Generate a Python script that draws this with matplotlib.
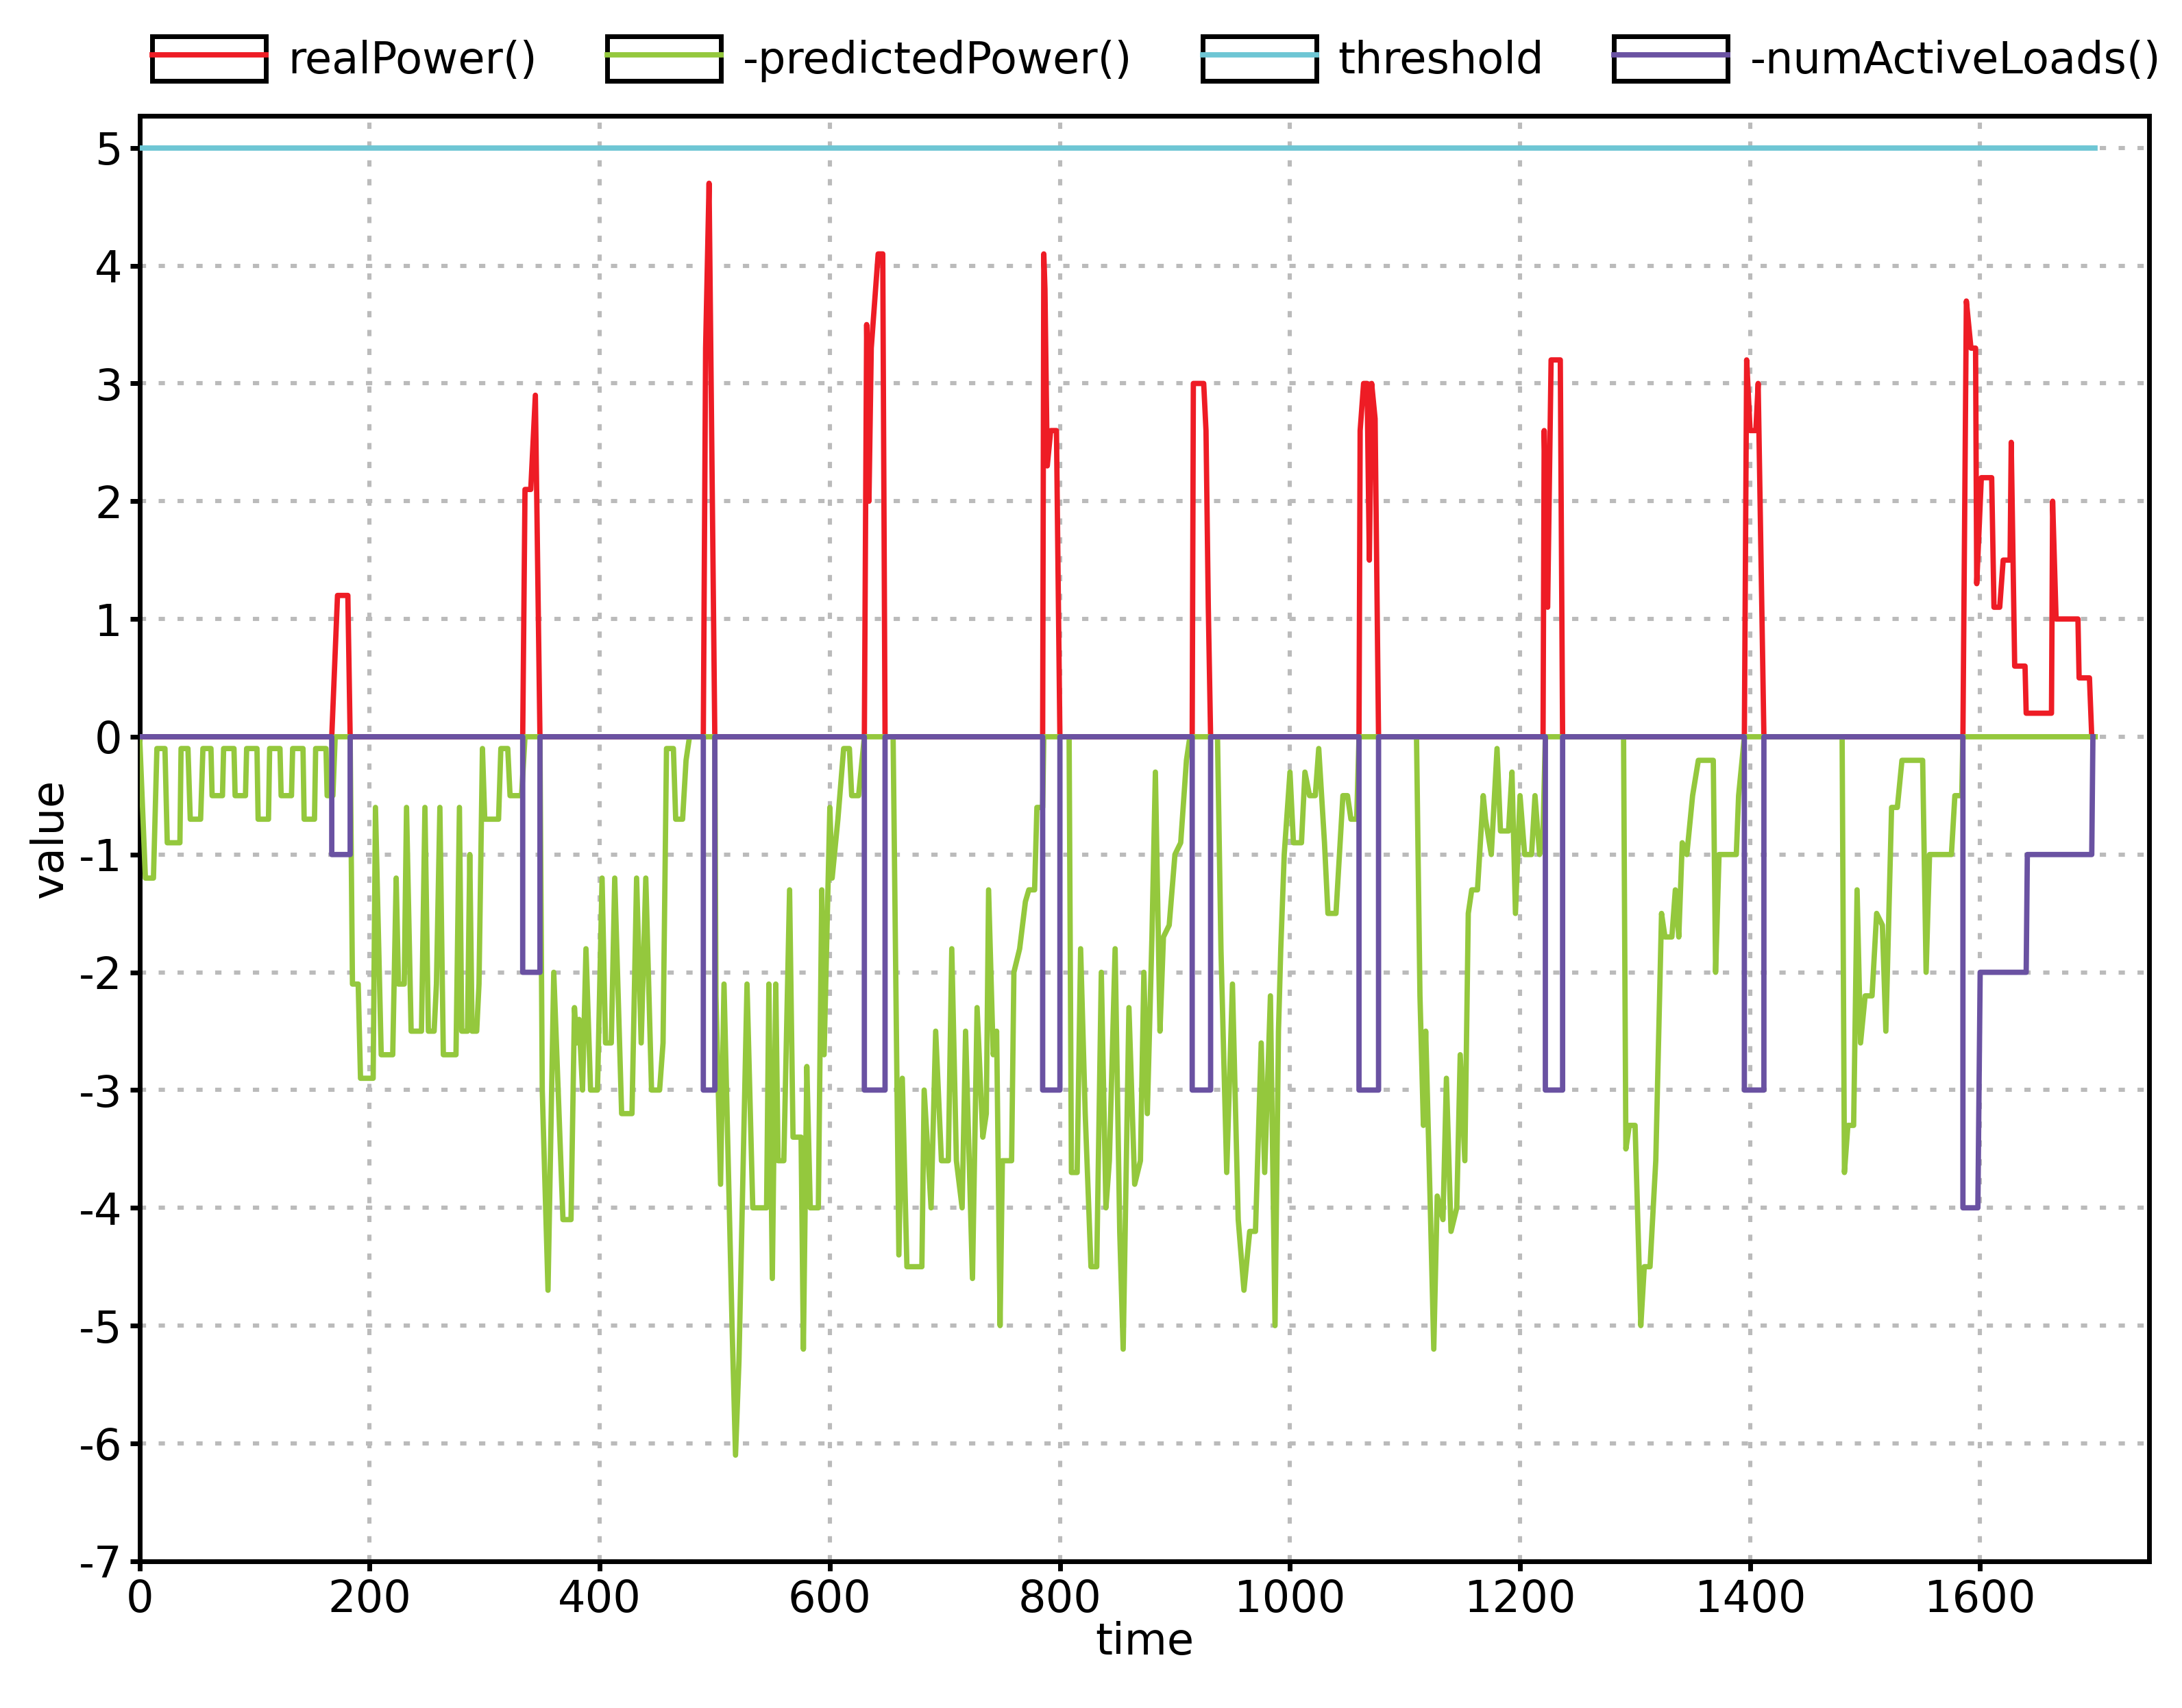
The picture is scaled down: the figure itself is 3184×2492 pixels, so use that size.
import matplotlib.pyplot as plt
from matplotlib.patches import Rectangle
from matplotlib.lines import Line2D
from matplotlib.legend_handler import HandlerTuple

# realPower() : (time, value) breakpoints
real_t = [0, 167, 172, 181, 183, 333, 335, 340, 344, 348, 490, 492, 495, 500,
          630, 632, 634, 636, 642, 646, 648, 785, 786, 787, 789, 792, 797, 800,
          915, 916, 925, 927, 929, 931, 1060, 1061, 1064, 1067, 1069, 1071, 1074, 1077,
          1220, 1221, 1224, 1227, 1235, 1237, 1395, 1397, 1400, 1405, 1407, 1412,
          1585, 1588, 1592, 1596, 1597, 1601, 1610, 1612, 1617, 1620, 1626, 1627, 1630,
          1639, 1640, 1662, 1663, 1666, 1685, 1686, 1695, 1697]
real_v = [0, 0, 1.2, 1.2, 0, 0, 2.1, 2.1, 2.9, 0, 0, 3.3, 4.7, 0,
          0, 3.5, 2.0, 3.3, 4.1, 4.1, 0, 0, 4.1, 3.8, 2.3, 2.6, 2.6, 0,
          0, 3.0, 3.0, 2.6, 1.1, 0, 0, 2.6, 3.0, 3.0, 1.5, 3.0, 2.7, 0,
          0, 2.6, 1.1, 3.2, 3.2, 0, 0, 3.2, 2.6, 2.6, 3.0, 0,
          0, 3.7, 3.3, 3.3, 1.3, 2.2, 2.2, 1.1, 1.1, 1.5, 1.5, 2.5, 0.6,
          0.6, 0.2, 0.2, 2.0, 1.0, 1.0, 0.5, 0.5, 0]

# -predictedPower() : (time, value) breakpoints
pred_points = [
    (0, 0), (5, -1.2), (12, -1.2), (15, -0.1), (22, -0.1), (24, -0.9), (35, -0.9),
    (36, -0.1), (42, -0.1), (44, -0.7), (53, -0.7), (55, -0.1), (62, -0.1),
    (63, -0.5), (72, -0.5), (73, -0.1), (82, -0.1), (83, -0.5), (92, -0.5),
    (93, -0.1), (102, -0.1), (103, -0.7), (112, -0.7), (113, -0.1), (122, -0.1),
    (123, -0.5), (132, -0.5), (133, -0.1), (142, -0.1), (143, -0.7), (152, -0.7),
    (153, -0.1), (162, -0.1), (163, -0.5), (168, -0.5), (170, 0), (183, 0),
    (185, -2.1), (190, -2.1), (192, -2.9), (203, -2.9), (205, -0.6), (210, -2.7),
    (220, -2.7), (223, -1.2), (225, -2.1), (230, -2.1), (232, -0.6), (236, -2.5),
    (245, -2.5), (248, -0.6), (251, -2.5), (256, -2.5), (258, -2.1), (261, -0.6),
    (264, -2.7), (275, -2.7), (278, -0.6), (280, -2.5), (285, -2.5), (287, -1.0),
    (289, -2.5), (293, -2.5), (295, -2.1), (298, -0.1), (300, -0.7), (312, -0.7),
    (314, -0.1), (320, -0.1), (322, -0.5), (332, -0.5), (335, 0), (348, 0),
    (350, -3.0), (355, -4.7), (360, -2.0), (368, -4.1), (375, -4.1), (378, -2.3),
    (380, -2.6), (382, -2.4), (385, -3.0), (388, -1.8), (392, -3.0), (398, -3.0),
    (402, -1.2), (405, -2.6), (410, -2.6), (413, -1.2), (419, -3.2), (428, -3.2),
    (432, -1.2), (436, -2.6), (440, -1.2), (445, -3.0), (452, -3.0), (455, -2.6),
    (458, -0.1), (464, -0.1), (466, -0.7), (472, -0.7), (475, -0.2), (478, 0),
    (500, 0),
    (501, -2.2), (505, -3.8), (508, -2.1), (515, -5.0), (518, -6.1), (521, -5.3),
    (528, -2.1), (533, -4.0), (545, -4.0), (547, -2.1), (550, -4.6), (553, -2.1),
    (555, -3.6), (560, -3.6), (565, -1.3), (568, -3.4), (575, -3.4), (577, -5.2),
    (580, -2.8), (583, -4.0), (590, -4.0), (593, -1.3), (595, -2.7), (600, -0.6),
    (602, -1.2), (607, -0.7), (612, -0.1), (617, -0.1), (619, -0.5), (625, -0.5),
    (630, 0), (655, 0),
    (660, -4.4), (663, -2.9), (667, -4.5), (680, -4.5), (682, -3.0), (688, -4.0),
    (692, -2.5), (697, -3.6), (703, -3.6), (706, -1.8), (710, -3.6), (715, -4.0),
    (718, -2.5), (724, -4.6), (728, -2.3), (733, -3.4), (736, -3.2), (738, -1.3),
    (742, -2.7), (745, -2.5), (748, -5.0), (750, -3.6), (758, -3.6), (760, -2.0),
    (765, -1.8), (770, -1.4), (773, -1.3), (778, -1.3), (780, -0.6), (785, -0.6),
    (786, 0), (808, 0),
    (810, -3.7), (815, -3.7), (818, -1.8), (822, -3.2), (827, -4.5), (832, -4.5),
    (836, -2.0), (840, -4.0), (843, -3.6), (848, -1.8), (852, -4.2), (855, -5.2),
    (860, -2.3), (865, -3.8), (870, -3.6), (873, -2.0), (876, -3.2), (880, -1.7),
    (883, -0.3), (887, -2.5), (890, -1.7), (895, -1.6), (900, -1.0), (905, -0.9),
    (910, -0.2), (913, 0), (937, 0),
    (940, -1.8), (945, -3.7), (950, -2.1), (955, -4.1), (960, -4.7), (965, -4.2),
    (970, -4.2), (975, -2.6), (978, -3.7), (983, -2.2), (987, -5.0), (990, -2.5),
    (992, -1.8), (995, -1.0), (1000, -0.3), (1003, -0.9), (1010, -0.9),
    (1013, -0.3), (1017, -0.5), (1022, -0.5), (1025, -0.1), (1030, -0.9),
    (1033, -1.5), (1040, -1.5), (1043, -1.0), (1046, -0.5), (1050, -0.5),
    (1053, -0.7), (1058, -0.7), (1060, 0), (1110, 0),
    (1113, -2.2), (1116, -3.3), (1118, -2.5), (1122, -4.0), (1125, -5.2),
    (1128, -3.9), (1133, -4.1), (1136, -2.9), (1140, -4.2), (1145, -4.0),
    (1148, -2.7), (1152, -3.6), (1155, -1.5), (1158, -1.3), (1163, -1.3),
    (1168, -0.5), (1170, -0.7), (1175, -1.0), (1180, -0.1), (1183, -0.8),
    (1190, -0.8), (1193, -0.3), (1196, -1.5), (1200, -0.5), (1204, -1.0),
    (1210, -1.0), (1213, -0.5), (1217, -1.0), (1220, -0.8), (1222, 0), (1290, 0),
    (1292, -3.5), (1295, -3.3), (1300, -3.3), (1305, -5.0), (1308, -4.5),
    (1313, -4.5), (1318, -3.6), (1323, -1.5), (1326, -1.7), (1332, -1.7),
    (1335, -1.3), (1338, -1.7), (1341, -0.9), (1345, -1.0), (1350, -0.5),
    (1355, -0.2), (1368, -0.2), (1370, -2.0), (1373, -1.0), (1388, -1.0),
    (1390, -0.5), (1395, 0), (1480, 0),
    (1482, -3.7), (1485, -3.3), (1490, -3.3), (1493, -1.3), (1496, -2.6),
    (1500, -2.2), (1506, -2.2), (1510, -1.5), (1515, -1.6), (1518, -2.5),
    (1523, -0.6), (1528, -0.6), (1532, -0.2), (1550, -0.2), (1553, -2.0),
    (1556, -1.0), (1575, -1.0), (1578, -0.5), (1584, -0.5), (1585, 0), (1700, 0),
]
pred_t = [p[0] for p in pred_points]
pred_v = [p[1] for p in pred_points]

# -numActiveLoads()
loads_t = [0, 167, 167, 183, 183, 333, 333, 348, 348, 490, 490, 500, 500, 630, 630,
           648, 648, 785, 785, 800, 800, 915, 915, 931, 931, 1060, 1060, 1077, 1077,
           1222, 1222, 1237, 1237, 1395, 1395, 1412, 1412, 1585, 1585, 1598, 1600,
           1640, 1641, 1697, 1698]
loads_v = [0, 0, -1, -1, 0, 0, -2, -2, 0, 0, -3, -3, 0, 0, -3, -3, 0, 0, -3, -3, 0,
           0, -3, -3, 0, 0, -3, -3, 0, 0, -3, -3, 0, 0, -3, -3, 0, 0, -4, -4, -2,
           -2, -1, -1, 0]

threshold_t = [0, 1700]
threshold_v = [5, 5]

series = [("realPower()", real_t, real_v, "#ee1c25"),
          ("-predictedPower()", pred_t, pred_v, "#94c83d"),
          ("threshold", threshold_t, threshold_v, "#6ec6d4"),
          ("-numActiveLoads()", loads_t, loads_v, "#6a52a2")]

plt.rcParams['font.family'] = ['DejaVu Sans']
plt.rcParams['axes.unicode_minus'] = False
fig = plt.figure(figsize=(15.92, 12.46), dpi=200)
ax = fig.add_axes([0.064, 0.086, 0.921, 0.846])

handles = []
labels = []
for name, t, v, c in series:
    ax.plot(t, v, color=c, lw=2.8, zorder=3)
    box = Rectangle((0, 0), 1, 1, facecolor="white", edgecolor="black", lw=2.5)
    ln = Line2D([], [], color=c, lw=2.8)
    handles.append((box, ln))
    labels.append(name)

ax.set_xlim(0, 1747)
ax.set_ylim(-7, 5.27)
ax.set_xticks(range(0, 1601, 200))
ax.set_yticks(range(-7, 6))
ax.grid(True, color="#bbbbbb", linestyle=(0, (1.5, 3)), lw=2.2)
for s in ax.spines.values():
    s.set_linewidth(2.5)
ax.tick_params(labelsize=23, width=2.5, length=5, pad=4)
ax.set_xlabel("time", fontsize=23, labelpad=0)
ax.set_ylabel("value", fontsize=23, labelpad=4)

fig.legend(handles, labels, handler_map={tuple: HandlerTuple(ndivide=1, pad=0)},
           loc="upper center", bbox_to_anchor=(0.53, 1.002), ncol=4, frameon=False,
           fontsize=23, handlelength=2.6, handleheight=1.2, handletextpad=0.5,
           columnspacing=1.6)

fig.savefig("out.png", dpi=200)
